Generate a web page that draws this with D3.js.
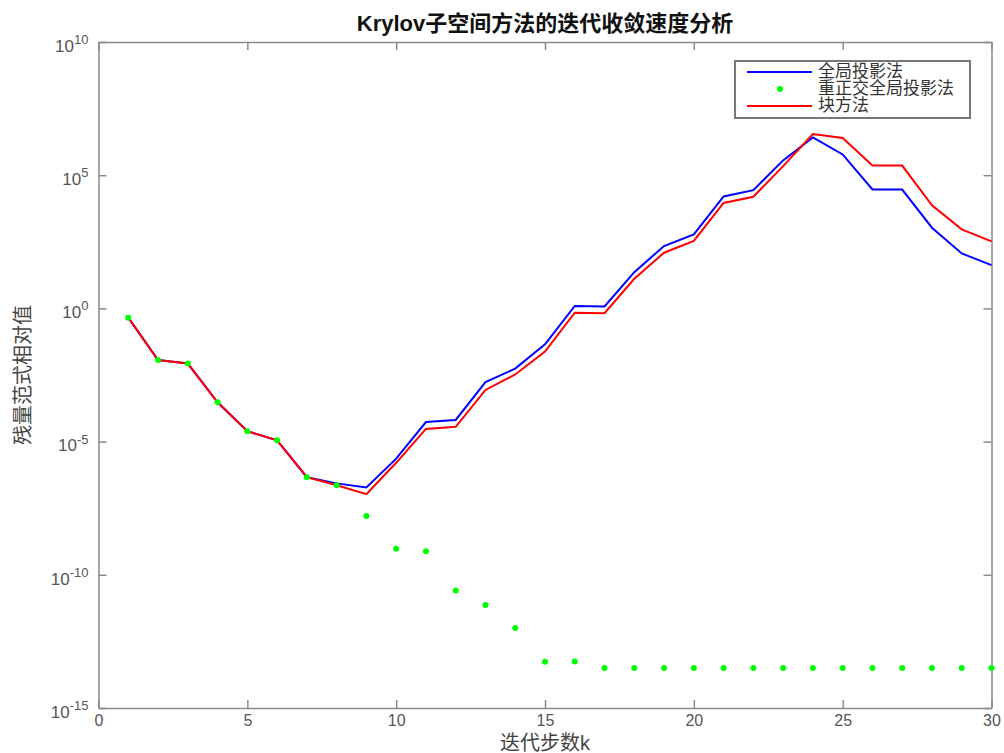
<!DOCTYPE html>
<html>
<head>
<meta charset="utf-8">
<script src="https://cdn.jsdelivr.net/npm/d3@7"></script>
<style>
  body { margin: 0; background: #fff; }
  svg { display: block; font-family: "Liberation Sans", "Noto Sans CJK SC", sans-serif; }
  .axis path, .axis line { stroke: #8a8a8a; stroke-width: 1.5; }
  .axis text { fill: #555; font-size: 17px; }
  .x-axis text { font-size: 16px; }
</style>
</head>
<body>
<svg id="chart"></svg>
<script>
// iteration steps k
const steps = [1, 2, 3, 4, 5, 6, 7, 8, 9, 10, 11, 12, 13, 14, 15,
               16, 17, 18, 19, 20, 21, 22, 23, 24, 25, 26, 27, 28, 29, 30];

// 全局投影法
const globalProj = [4.5e-1, 1.15e-2, 8.5e-3, 3.0e-4, 2.45e-5, 1.12e-5, 4.6e-7, 2.7e-7, 1.9e-7, 2.3e-6,
                    5.4e-5, 6.5e-5, 1.7e-3, 5.5e-3, 4.5e-2, 1.23, 1.19, 23, 220, 600,
                    1.6e4, 2.75e4, 3.6e5, 2.6e6, 6.0e5, 2.9e4, 2.9e4, 1.07e3, 115, 42];

// 重正交全局投影法
const reorthProj = [4.5e-1, 1.15e-2, 8.5e-3, 3.0e-4, 2.45e-5, 1.12e-5, 4.6e-7, 2.3e-7, 1.6e-8, 9.5e-10,
                    7.6e-10, 2.6e-11, 7.4e-12, 1.0e-12, 5.5e-14, 5.6e-14, 3.2e-14, 3.2e-14, 3.2e-14, 3.2e-14,
                    3.2e-14, 3.2e-14, 3.2e-14, 3.2e-14, 3.2e-14, 3.2e-14, 3.2e-14, 3.2e-14, 3.2e-14, 3.2e-14];

// 块方法
const blockMethod = [4.5e-1, 1.15e-2, 8.5e-3, 3.0e-4, 2.45e-5, 1.12e-5, 4.6e-7, 2.3e-7, 1.07e-7, 1.6e-6,
                     3.0e-5, 3.6e-5, 8.7e-4, 3.3e-3, 2.4e-2, 0.69, 0.66, 13, 123, 340,
                     9.1e3, 1.55e4, 2.2e5, 3.5e6, 2.5e6, 2.3e5, 2.3e5, 7.4e3, 930, 330];

const xTicks = [0, 5, 10, 15, 20, 25, 30];
const yExponents = [-15, -10, -5, 0, 5, 10];

const config = {
  width: 1004,
  height: 753,
  margin: {top: 42, right: 12.5, bottom: 45, left: 98.5}
};

const svg = d3.select('#chart')
    .attr('width', config.width)
    .attr('height', config.height);

const innerW = config.width - config.margin.left - config.margin.right;
const innerH = config.height - config.margin.top - config.margin.bottom;

const chart = svg.append('g')
    .attr('transform', `translate(${config.margin.left},${config.margin.top})`);

const xScale = d3.scaleLinear().domain([0, 30]).range([0, innerW]);
const yScale = d3.scaleLog().domain([1e-15, 1e10]).range([innerH, 0]);

const yTickValues = yExponents.map(e => Math.pow(10, e));

// axes, ticks pointing inward (box on)
chart.append('g')
    .attr('class', 'axis x-axis')
    .attr('transform', `translate(0,${innerH})`)
    .call(d3.axisBottom(xScale).tickValues(xTicks).tickSize(-8).tickSizeOuter(0).tickPadding(7));

chart.append('g')
    .attr('class', 'axis')
    .call(d3.axisTop(xScale).tickValues(xTicks).tickSize(-8).tickSizeOuter(0).tickFormat(''));

const yAxisG = chart.append('g')
    .attr('class', 'axis y-axis')
    .call(d3.axisLeft(yScale).tickValues(yTickValues).tickSize(-8).tickSizeOuter(0).tickPadding(10).tickFormat(''));

chart.append('g')
    .attr('class', 'axis')
    .attr('transform', `translate(${innerW},0)`)
    .call(d3.axisRight(yScale).tickValues(yTickValues).tickSize(-8).tickSizeOuter(0).tickFormat(''));

// 10^n labels with superscript exponent
yAxisG.selectAll('.tick text')
    .each(function(d) {
      const t = d3.select(this)
          .attr('dy', '0.55em');
      const e = Math.round(Math.log10(d));
      t.text('10');
      t.append('tspan')
          .attr('dy', '-0.6em')
          .style('font-size', '13px')
          .text(e);
    })
    .attr('text-anchor', 'start')
    .each(function() {
      // right-align the whole label at x = -10
      const w = this.getComputedTextLength();
      d3.select(this).attr('x', -10 - w);
    });

// lines
const line = d3.line()
    .x((d, i) => xScale(steps[i]))
    .y(d => yScale(d));

chart.append('path')
    .datum(globalProj)
    .attr('fill', 'none')
    .attr('stroke', '#0000ff')
    .attr('stroke-width', 2)
    .attr('d', line);

chart.append('path')
    .datum(blockMethod)
    .attr('fill', 'none')
    .attr('stroke', '#ff0000')
    .attr('stroke-width', 2)
    .attr('d', line);

chart.selectAll('.dot')
    .data(reorthProj)
  .join('circle')
    .attr('class', 'dot')
    .attr('cx', (d, i) => xScale(steps[i]))
    .attr('cy', d => yScale(d))
    .attr('r', 3)
    .attr('fill', '#00ff00');

// title and axis labels
svg.append('text')
    .attr('x', config.margin.left + innerW / 2)
    .attr('y', 31)
    .attr('text-anchor', 'middle')
    .style('font-size', '22px')
    .style('font-weight', 'bold')
    .style('fill', '#111')
    .text('Krylov子空间方法的迭代收敛速度分析');

svg.append('text')
    .attr('x', config.margin.left + innerW / 2)
    .attr('y', 750)
    .attr('text-anchor', 'middle')
    .style('font-size', '20px')
    .style('fill', '#444')
    .text('迭代步数k');

svg.append('text')
    .attr('transform', `translate(30,${config.margin.top + innerH / 2}) rotate(-90)`)
    .attr('text-anchor', 'middle')
    .style('font-size', '20px')
    .style('fill', '#444')
    .text('残量范式相对值');

// legend
const legendItems = [
  {label: '全局投影法', color: '#0000ff', type: 'line'},
  {label: '重正交全局投影法', color: '#00ff00', type: 'dot'},
  {label: '块方法', color: '#ff0000', type: 'line'}
];

const legend = svg.append('g').attr('transform', 'translate(735,61)');

legend.append('rect')
    .attr('width', 235)
    .attr('height', 57)
    .attr('fill', '#fff')
    .attr('stroke', '#777')
    .attr('stroke-width', 2);

const rows = legend.selectAll('.legend-row')
    .data(legendItems)
  .join('g')
    .attr('class', 'legend-row')
    .attr('transform', (d, i) => `translate(0,${11 + i * 17})`);

rows.filter(d => d.type === 'line').append('line')
    .attr('x1', 12).attr('x2', 77)
    .attr('stroke', d => d.color)
    .attr('stroke-width', 2);

rows.filter(d => d.type === 'dot').append('circle')
    .attr('cx', 45)
    .attr('r', 3)
    .attr('fill', d => d.color);

rows.append('text')
    .attr('x', 83)
    .attr('y', -1)
    .attr('dominant-baseline', 'central')
    .style('font-size', '17px')
    .style('fill', '#333')
    .text(d => d.label);
</script>
</body>
</html>
